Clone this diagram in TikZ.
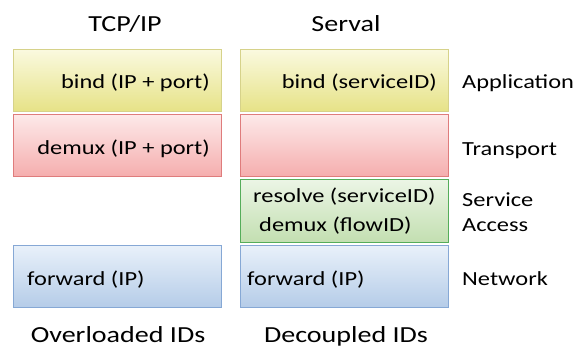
\documentclass[tikz,border=0pt]{standalone}
\usepackage{fontspec}
\setmainfont{Carlito}[FakeStretch=1.22]
\begin{document}
\begin{tikzpicture}[x=1pt,y=-1pt,
  layer/.style={draw, line width=1pt, inner sep=0pt, outer sep=0pt, anchor=north west, minimum width=208pt, minimum height=62pt},
  appbox/.style={layer, draw=appborder, top color=apptop, bottom color=appbot},
  trbox/.style={layer, draw=trborder, top color=trtop, bottom color=trbot},
  sabox/.style={layer, draw=saborder, top color=satop, bottom color=sabot},
  netbox/.style={layer, draw=netborder, top color=nettop, bottom color=netbot},
  txt/.style={inner sep=0pt, text=black, font=\fontsize{20}{25}\selectfont},
  big/.style={inner sep=0pt, text=black, font=\fontsize{23}{27}\selectfont}]
\definecolor{apptop}{HTML}{FAF9DE}
\definecolor{appbot}{HTML}{E6E286}
\definecolor{appborder}{HTML}{D6D28A}
\definecolor{trtop}{HTML}{FDE9E9}
\definecolor{trbot}{HTML}{F5ADAD}
\definecolor{trborder}{HTML}{DF7C7C}
\definecolor{satop}{HTML}{EBF5E5}
\definecolor{sabot}{HTML}{C3DFB1}
\definecolor{saborder}{HTML}{55AD5A}
\definecolor{nettop}{HTML}{E9F1FA}
\definecolor{netbot}{HTML}{B5CCE8}
\definecolor{netborder}{HTML}{86A8D5}
\useasboundingbox (0,0) rectangle (577,347);
% titles
\node[big, anchor=base] (ttcp) at (125,32) {TCP/IP};
\node[big, anchor=base] (tserval) at (346,32) {Serval};
% left column
\node[appbox] (lapp) at (13,50) {};
\node[trbox] (ltr) at (13,115) {};
\node[netbox] (lnet) at (13,245) {};
% right column
\node[appbox] (rapp) at (240,50) {};
\node[trbox] (rtr) at (240,115) {};
\node[sabox] (rsa) at (240,180) {};
\node[netbox] (rnet) at (240,245) {};
% box texts
\node[txt, anchor=base east] (lbind) at (210,89) {bind (IP + port)};
\node[txt, anchor=base east] (ldemux) at (210,155) {demux (IP + port)};
\node[txt, anchor=base west] (lfwd) at (27,285) {forward (IP)};
\node[txt, anchor=base east] (rbind) at (437,89) {bind (serviceID)};
\node[txt, anchor=base west] (rres) at (253,202) {resolve (serviceID)};
\node[txt, anchor=base west] (rdemux) at (259,231) {demux (flowID)};
\node[txt, anchor=base west] (rfwd) at (247,285) {forward (IP)};
% layer labels
\node[txt, anchor=base west] (lbapp) at (462,89) {Application};
\node[txt, anchor=base west] (lbtr) at (462,156) {Transport};
\node[txt, anchor=base west] (lbsa1) at (462,206) {Service};
\node[txt, anchor=base west] (lbsa2) at (462,231) {Access};
\node[txt, anchor=base west] (lbnet) at (462,285) {Network};
% bottom
\node[big, anchor=base] (bover) at (118,342) {Overloaded IDs};
\node[big, anchor=base] (bdec) at (346,342) {Decoupled IDs};
\end{tikzpicture}
\end{document}
